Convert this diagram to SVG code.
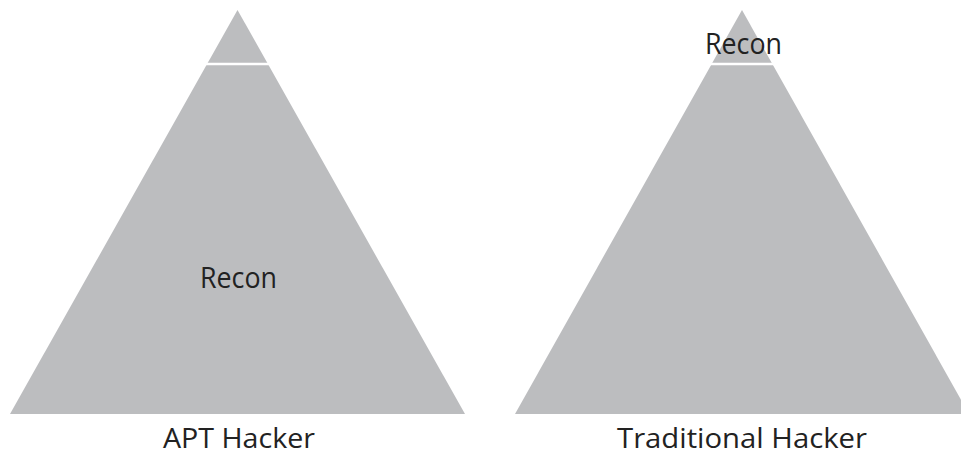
<svg xmlns="http://www.w3.org/2000/svg" width="961" height="456" viewBox="0 0 961 456">
<style>
.tri{fill:#bcbdbf}
.sep{stroke:#ffffff;stroke-width:2.5}
.lbl{font-family:"Open Sans","Liberation Sans",sans-serif;font-size:29px;fill:#222222;text-anchor:middle}
.cap{font-size:27px}
</style>
<rect width="961" height="456" fill="#ffffff"/>
<g id="apt">
<polygon class="tri" points="237.5,10 465,414 10,414"/>
<line class="sep" x1="205" y1="64" x2="270" y2="64"/>
<text class="lbl" x="238.5" y="288" textLength="77" lengthAdjust="spacingAndGlyphs">Recon</text>
<text class="lbl cap" x="239" y="448" textLength="152" lengthAdjust="spacingAndGlyphs">APT Hacker</text>
</g>
<g id="traditional">
<polygon class="tri" points="742,10 969,414 515,414"/>
<line class="sep" x1="710" y1="64" x2="775" y2="64"/>
<text class="lbl" x="743.5" y="54" textLength="77" lengthAdjust="spacingAndGlyphs">Recon</text>
<text class="lbl cap" x="742" y="448" textLength="250" lengthAdjust="spacingAndGlyphs">Traditional Hacker</text>
</g>
</svg>
